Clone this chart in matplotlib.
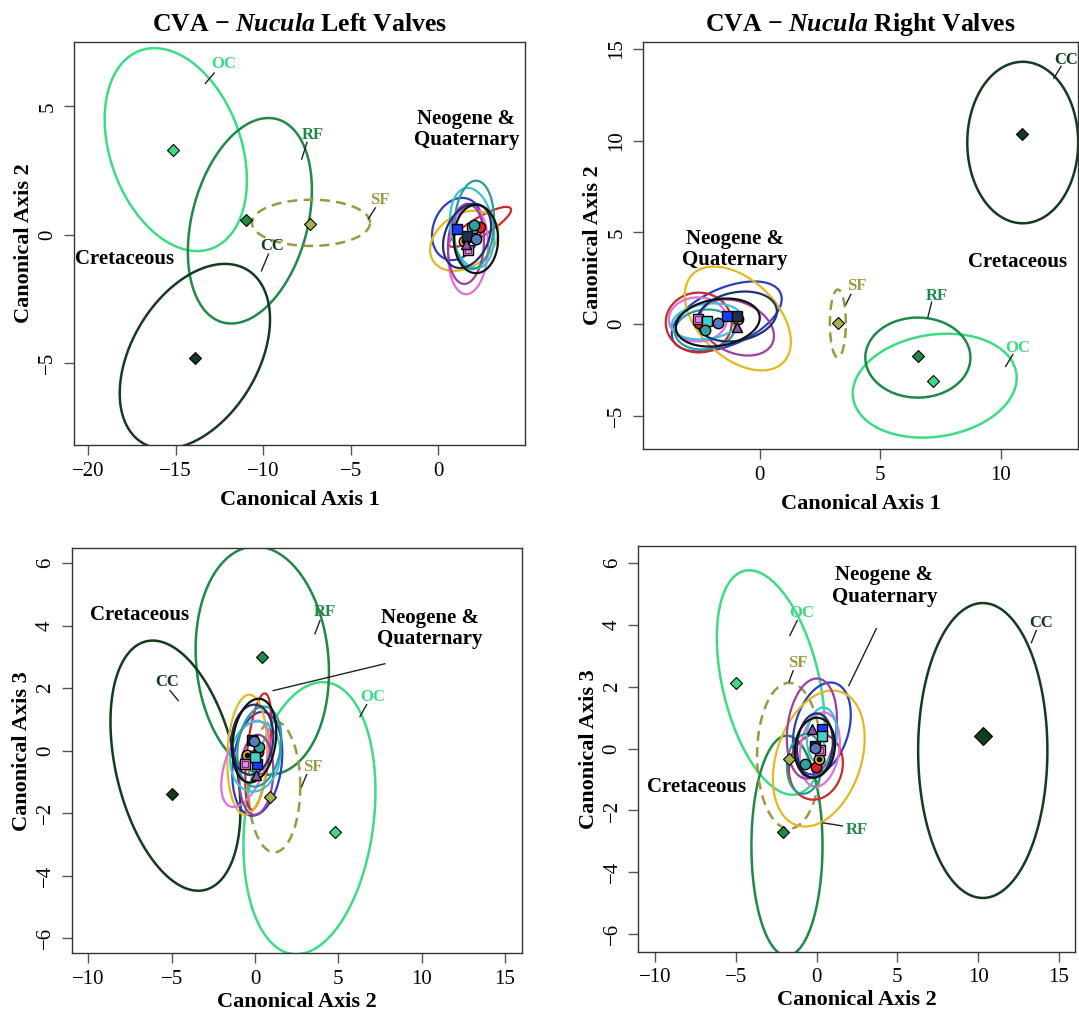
import numpy as np
import matplotlib
matplotlib.use('Agg')
import matplotlib.pyplot as plt
from matplotlib.patches import Polygon

plt.rcParams['font.family'] = ['Liberation Serif', 'DejaVu Serif']
plt.rcParams['mathtext.fontset'] = 'custom'
plt.rcParams['mathtext.rm'] = 'Liberation Serif:weight=bold'
plt.rcParams['mathtext.it'] = 'Liberation Serif:style=italic:weight=bold'
plt.rcParams['mathtext.bf'] = 'Liberation Serif:weight=bold'

# fossil groups: OC, RF, CC, SF ; ellipse = (cx, cy, sx, sy, rho), mean = (mx, my)
groups = ['OC', 'RF', 'CC', 'SF']

p1_ell = [(-14.99, 3.32, 4.06, 3.95, -0.3), (-10.76, 0.55, 3.54, 4.0, 0.3),
          (-13.9, -4.73, 4.29, 3.6, 0.4), (-7.27, 0.47, 3.37, 0.9, 0.0)]
p1_mean = [(-15.15, 3.32), (-11.0, 0.59), (-13.9, -4.8), (-7.3, 0.43)]

p2_ell = [(7.26, -3.35, 3.4, 2.83, 0.15), (6.56, -1.82, 2.18, 2.18, 0.0),
          (10.91, 9.9, 2.3, 4.4, 0.0), (3.24, 0.04, 0.33, 1.85, 0.0)]
p2_mean = [(7.18, -3.07), (6.56, -1.76), (10.87, 10.34), (3.24, 0.04)]

p3_ell = [(3.27, -2.16, 3.96, 4.35, 0.2), (0.44, 2.88, 4.0, 3.65, -0.1),
          (-4.77, -0.48, 3.9, 4.0, -0.35), (1.16, -1.15, 1.56, 2.1, 0.0)]
p3_mean = [(4.82, -2.61), (0.44, 2.98), (-5.0, -1.38), (0.93, -1.47)]

p4_ell = [(-2.83, 2.14, 3.34, 3.63, -0.4), (-1.83, -3.14, 2.2, 3.56, 0.0),
          (10.29, -0.06, 4.0, 4.77, 0.0), (-1.7, -0.23, 1.98, 2.36, 0.0)]
p4_mean = [(-4.99, 2.14), (-2.09, -2.69), (10.29, 0.42), (-1.71, -0.32)]

# Neogene & Quaternary groups: (cx, cy, sx, sy, rho)
p1_neo = [(1.07, 0.23, 1.43, 1.21, 0.2), (2.38, 0.31, 1.77, 0.78, 0.85),
          (1.47, -0.23, 1.94, 1.17, 0.3), (1.70, -0.59, 1.14, 1.72, 0.1),
          (1.58, -0.35, 1.03, 1.56, 0.1), (1.93, 0.27, 1.26, 1.56, -0.2),
          (2.04, 0.39, 1.14, 1.72, 0.1), (1.64, -0.04, 1.37, 1.25, 0.3),
          (2.15, -0.16, 1.26, 1.33, 0.0)]
p2_neo = [(-1.37, 0.42, 2.28, 1.91, 0.5), (-2.53, 0.09, 1.37, 1.63, 0.0),
          (-0.91, 0.31, 2.2, 2.83, -0.45), (-2.57, 0.26, 1.2, 1.2, 0.0),
          (-0.95, -0.18, 1.54, 1.53, -0.3), (-2.2, 0.15, 1.45, 0.98, 0.2),
          (-2.28, -0.29, 1.24, 1.09, 0.1), (-0.95, 0.42, 1.66, 1.36, 0.2),
          (-1.74, 0.09, 1.74, 1.31, 0.2)]
p3_neo = [(0.14, -0.42, 1.5, 1.66, 0.2), (0.2, -0.03, 0.78, 1.86, 0.5),
          (-0.46, -0.13, 1.2, 1.92, 0.1), (-0.58, -0.42, 1.44, 1.38, 0.5),
          (0.08, -0.77, 1.02, 1.28, 0.1), (0.02, -0.19, 1.5, 1.12, 0.1),
          (0.26, 0.13, 1.32, 1.28, 0.2), (-0.16, 0.35, 1.26, 1.12, 0.1),
          (-0.04, 0.32, 1.32, 1.34, 0.2)]
p4_neo = [(0.33, 0.65, 1.79, 1.49, 0.3), (-0.04, -0.58, 1.67, 1.07, 0.1),
          (0.14, -0.32, 2.84, 2.2, 0.3), (0.2, -0.03, 1.24, 1.2, 0.2),
          (-0.29, 0.65, 1.55, 1.62, 0.2), (0.33, 0.42, 0.93, 0.91, 0.1),
          (-0.72, -0.49, 1.11, 0.97, 0.1), (-0.1, 0.1, 1.11, 1.04, 0.1),
          (-0.1, 0.03, 1.24, 0.97, 0.1)]

# styles
grp_col = {'OC': '#3ddc84', 'RF': '#1f8a48', 'CC': '#123d1c', 'SF': '#9a9a40'}
grp_fill = {'OC': '#3ddc84', 'RF': '#1f8a48', 'CC': '#123d1c', 'SF': '#a9b04a'}
neo_col = ['#2a3fc0', '#cc2a2a', '#e6b820', '#e070e0', '#9b3fa5',
           '#3cc0d8', '#2a9a9a', '#1f3070', '#111111']
neo_fill = ['#1a3cff', '#e02020', '#e6b820', '#e090e0', '#9050b0',
            '#40d0d0', '#30a0a0', '#203050', '#5878c0']
neo_mark = ['s', 'o', 'o', 's', '^', 's', 'o', 's', 'o']


def ellipse_xy(cx, cy, sx, sy, rho):
    t = np.linspace(0, 2 * np.pi, 200, endpoint=False)
    x = cx + sx * np.cos(t)
    y = cy + sy * (rho * np.cos(t) + np.sqrt(1 - rho ** 2) * np.sin(t))
    return np.column_stack([x, y])


def draw_ellipse(ax, e, color, lw, ls='-'):
    ax.add_patch(Polygon(ellipse_xy(*e), closed=True, fill=False, edgecolor=color,
                         lw=lw, ls=ls, joinstyle='round'))


def draw_panel(ax, ell, means, neo, xlim, ylim, big_cc=False):
    for g, e, m in zip(groups, ell, means):
        ls = (0, (4, 2.5)) if g == 'SF' else '-'
        draw_ellipse(ax, e, grp_col[g], 1.8, ls)
        ms = 9 if (g == 'CC' and big_cc) else 6.5
        ax.plot(m[0], m[1], marker='D', ms=ms, mfc=grp_fill[g], mec='black', mew=0.8)
    for i, e in enumerate(neo):
        draw_ellipse(ax, e, neo_col[i], 1.6)
    for i, e in enumerate(neo):
        ax.plot(e[0], e[1], marker=neo_mark[i], ms=7.5, mfc=neo_fill[i], mec='black', mew=1.0)
        if i == 2:
            ax.plot(e[0], e[1], marker='o', ms=3, mfc='black', mec='black')
        if i == 3:
            ax.plot(e[0], e[1], marker='s', ms=4.5, mfc='none', mec='#802080', mew=0.8)
    ax.set_xlim(*xlim)
    ax.set_ylim(*ylim)
    for s in ax.spines.values():
        s.set_color('#333333')
        s.set_linewidth(1.0)
    ax.tick_params(direction='out', length=7, width=1, color='#555555', labelsize=15, pad=5)
    for lab in ax.get_yticklabels():
        lab.set_rotation(90)
        lab.set_va('center')


def glabel(ax, g, txt_xy, line_from, line_to):
    ax.text(txt_xy[0], txt_xy[1], g, color=grp_col[g], fontsize=12, fontweight='bold',
            ha='center', va='center')
    ax.plot([line_from[0], line_to[0]], [line_from[1], line_to[1]], color='#222222', lw=1.0)


fig = plt.figure(figsize=(10.79, 10.19), dpi=100)

ax1 = fig.add_axes([0.0686, 0.5633, 0.418, 0.3955])
ax2 = fig.add_axes([0.596, 0.5594, 0.403, 0.3994])
ax3 = fig.add_axes([0.0664, 0.0645, 0.417, 0.3977])
ax4 = fig.add_axes([0.5916, 0.066, 0.4047, 0.398])

draw_panel(ax1, p1_ell, p1_mean, p1_neo, (-20.8, 4.95), (-8.18, 7.51))
draw_panel(ax2, p2_ell, p2_mean, p2_neo, (-4.84, 13.2), (-6.8, 15.38))
draw_panel(ax3, p3_ell, p3_mean, p3_neo, (-11.0, 16.0), (-6.48, 6.48))
draw_panel(ax4, p4_ell, p4_mean, p4_neo, (-11.03, 16.0), (-6.57, 6.55), big_cc=True)

ax1.set_xticks([-20, -15, -10, -5, 0])
ax1.set_yticks([-5, 0, 5])
ax2.set_xticks([0, 5, 10])
ax2.set_yticks([-5, 0, 5, 10, 15])
for a in (ax3, ax4):
    a.set_xticks([-10, -5, 0, 5, 10, 15])
    a.set_yticks([-6, -4, -2, 0, 2, 4, 6])

lab_kw = dict(fontsize=16, fontweight='bold')
ax1.set_xlabel('Canonical Axis 1', labelpad=7, **lab_kw)
ax1.set_ylabel('Canonical Axis 2', labelpad=3, **lab_kw)
ax2.set_xlabel('Canonical Axis 1', labelpad=7, **lab_kw)
ax2.set_ylabel('Canonical Axis 2', labelpad=3, **lab_kw)
ax3.set_xlabel('Canonical Axis 2', labelpad=2, **lab_kw)
ax3.set_ylabel('Canonical Axis 3', labelpad=3, **lab_kw)
ax4.set_xlabel('Canonical Axis 2', labelpad=2, **lab_kw)
ax4.set_ylabel('Canonical Axis 3', labelpad=3, **lab_kw)

ax1.set_title(r'CVA $-$ $\mathit{Nucula}$ Left Valves', fontsize=18.5, fontweight='bold', pad=8)
ax2.set_title(r'CVA $-$ $\mathit{Nucula}$ Right Valves', fontsize=18.5, fontweight='bold', pad=8)

txt_kw = dict(fontsize=15, fontweight='bold', ha='center', va='center', linespacing=1.1)

# panel 1 annotations
ax1.text(-17.9, -0.94, 'Cretaceous', **txt_kw)
ax1.text(1.6, 4.1, 'Neogene &\nQuaternary', **txt_kw)
glabel(ax1, 'OC', (-12.25, 6.64), (-12.8, 6.3), (-13.3, 5.9))
glabel(ax1, 'RF', (-7.16, 3.9), (-7.5, 3.6), (-7.8, 2.95))
glabel(ax1, 'SF', (-3.33, 1.37), (-3.6, 1.05), (-4.0, 0.62))
glabel(ax1, 'CC', (-9.5, -0.43), (-9.7, -0.75), (-10.1, -1.4))

# panel 2 annotations
ax2.text(-1.04, 4.06, 'Neogene &\nQuaternary', **txt_kw)
ax2.text(10.7, 3.4, 'Cretaceous', **txt_kw)
glabel(ax2, 'CC', (12.7, 14.4), (12.5, 14.05), (12.2, 13.4))
glabel(ax2, 'OC', (10.7, -1.32), (10.5, -1.65), (10.2, -2.3))
glabel(ax2, 'RF', (7.34, 1.56), (7.13, 1.2), (6.97, 0.35))
glabel(ax2, 'SF', (4.03, 2.06), (3.78, 1.62), (3.57, 1.07))

# panel 3 annotations
ax3.text(-6.9, 4.35, 'Cretaceous', **txt_kw)
ax3.text(10.5, 3.9, 'Neogene &\nQuaternary', **txt_kw)
ax3.plot([7.8, 1.1], [2.78, 1.92], color='#222222', lw=1.0)
glabel(ax3, 'RF', (4.2, 4.42), (3.9, 4.16), (3.6, 3.74))
glabel(ax3, 'OC', (7.05, 1.7), (6.7, 1.47), (6.3, 1.09))
glabel(ax3, 'CC', (-5.3, 2.18), (-5.1, 1.92), (-4.6, 1.6))
glabel(ax3, 'SF', (3.45, -0.51), (3.1, -0.77), (2.8, -1.15))

# panel 4 annotations
ax4.text(-7.4, -1.23, 'Cretaceous', **txt_kw)
ax4.text(4.2, 5.27, 'Neogene &\nQuaternary', **txt_kw)
ax4.plot([3.7, 2.0], [3.88, 2.04], color='#222222', lw=1.0)
glabel(ax4, 'CC', (13.9, 4.08), (13.6, 3.82), (13.3, 3.43))
glabel(ax4, 'OC', (-0.9, 4.4), (-1.2, 4.14), (-1.65, 3.66))
glabel(ax4, 'SF', (-1.15, 2.78), (-1.45, 2.52), (-1.7, 2.17))
glabel(ax4, 'RF', (2.5, -2.63), (1.6, -2.5), (0.4, -2.4))

fig.savefig('out.png', dpi=100)
